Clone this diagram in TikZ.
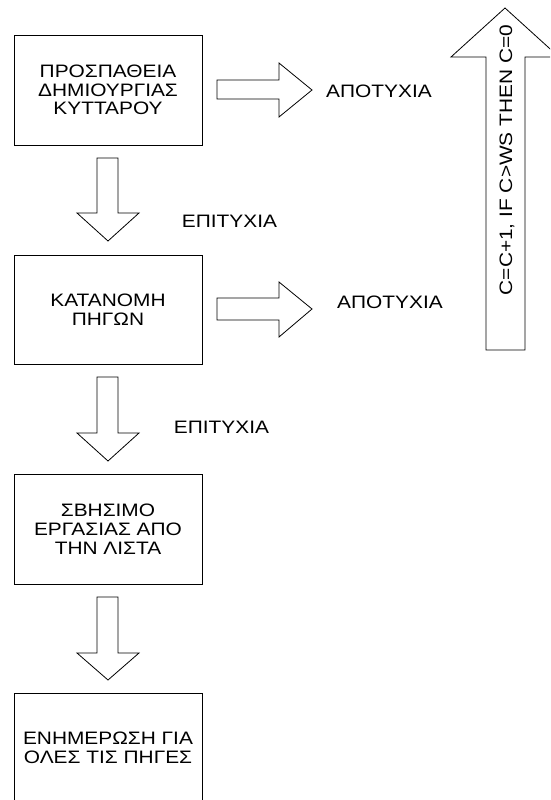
\documentclass[tikz,border=0pt]{standalone}
\usepackage{fontspec}
\setmainfont{Liberation Sans}[FakeStretch=1.16]
\begin{document}
\begin{tikzpicture}[x=1pt,y=-1pt,
  boxnode/.style={draw=black,line width=0.8pt,minimum width=188pt,minimum height=110pt,align=center,inner sep=0pt,font=\fontsize{18}{18.8}\selectfont},
  lbl/.style={inner sep=0pt,font=\fontsize{18}{18.8}\selectfont},
  blockarrow/.style={draw=black,line width=0.8pt,fill=white,line join=miter}]
\useasboundingbox (0,0) rectangle (550,800);
\clip (0,0) rectangle (550,800);
\node[boxnode] (b1) at (108,90) {ΠΡΟΣΠΑΘΕΙΑ\\ΔΗΜΙΟΥΡΓΙΑΣ\\ΚΥΤΤΑΡΟΥ};
\node[boxnode,minimum height=109pt] (b2) at (108,309.5) {ΚΑΤΑΝΟΜΗ\\ΠΗΓΩΝ};
\node[boxnode] (b3) at (108,529) {ΣΒΗΣΙΜΟ\\ΕΡΓΑΣΙΑΣ ΑΠΟ\\ΤΗΝ ΛΙΣΤΑ};
\node[boxnode] (b4) at (108,748) {ΕΝΗΜΕΡΩΣΗ ΓΙΑ\\ΟΛΕΣ ΤΙΣ ΠΗΓΕΣ};
% down arrows
\draw[blockarrow] (97,158) -- (118,158) -- (118,213) -- (139,213) -- (108,241) -- (77,213) -- (97,213) -- cycle;
\draw[blockarrow] (97,377) -- (118,377) -- (118,433) -- (139,433) -- (108,461) -- (77,433) -- (97,433) -- cycle;
\draw[blockarrow] (97,597) -- (118,597) -- (118,653) -- (139,653) -- (108,680) -- (77,653) -- (97,653) -- cycle;
% right arrows
\draw[blockarrow] (217,80) -- (279,80) -- (279,63) -- (312,90) -- (279,117) -- (279,99) -- (217,99) -- cycle;
\draw[blockarrow] (217,298) -- (279,298) -- (279,282) -- (312,309) -- (279,337) -- (279,320) -- (217,320) -- cycle;
% up arrow
\draw[blockarrow] (486,350) -- (486,57) -- (451,57) -- (505,8) -- (559,57) -- (525,57) -- (525,350) -- cycle;
% labels
\node[lbl] (s1) at (229.5,221) {ΕΠΙΤΥΧΙΑ};
\node[lbl] (s2) at (221.5,427.5) {ΕΠΙΤΥΧΙΑ};
\node[lbl] (f1) at (379,91) {ΑΠΟΤΥΧΙΑ};
\node[lbl] (f2) at (390,302.5) {ΑΠΟΤΥΧΙΑ};
\node[lbl,rotate=90] (c) at (507,160) {C=C+1, IF C>WS THEN C=0};
\end{tikzpicture}
\end{document}
